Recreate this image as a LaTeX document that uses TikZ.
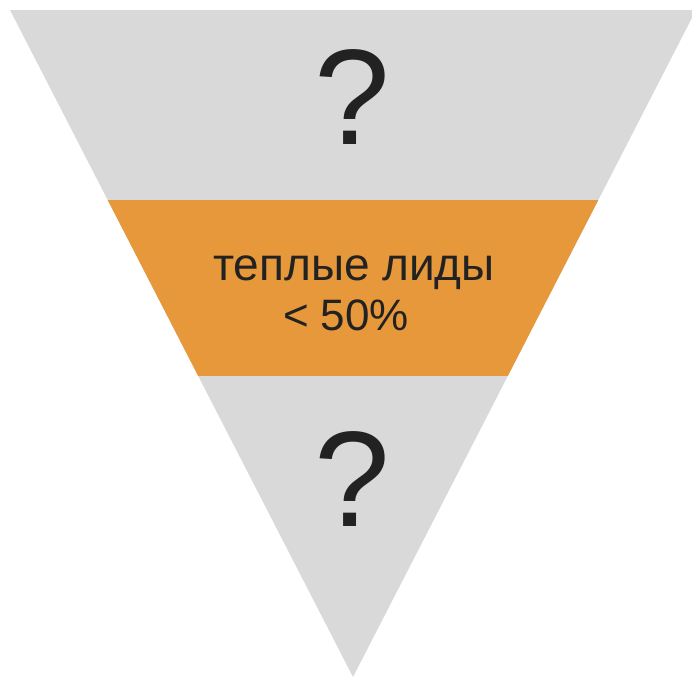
\documentclass[tikz,border=0pt]{standalone}
\usepackage{fontspec}
\setmainfont{Liberation Sans}
\usetikzlibrary{calc}
\definecolor{funnelgray}{HTML}{D9D9D9}
\definecolor{funnelorange}{HTML}{E6983B}
\definecolor{txt}{HTML}{222222}
\tikzset{
  qmark/.style={anchor=base, text=txt, inner sep=0pt, font=\fontsize{136}{136}\selectfont},
  bandtext/.style={anchor=base, text=txt, inner sep=0pt, align=center, font=\fontsize{46}{50}\selectfont}
}
\begin{document}
\begin{tikzpicture}[x=1pt,y=-1pt]
\useasboundingbox (0,0) rectangle (692,678);
\clip (0,0) rectangle (692,678);
\coordinate (A) at (10,10);
\coordinate (B) at (696,10);
\coordinate (C) at (353,677);
\fill[funnelgray] (A) -- (B) -- (C) -- cycle;
\coordinate (L1) at ($(A)!0.2849!(C)$);
\coordinate (R1) at ($(B)!0.2849!(C)$);
\coordinate (L2) at ($(A)!0.5487!(C)$);
\coordinate (R2) at ($(B)!0.5487!(C)$);
\fill[funnelorange] (L1) -- (R1) -- (R2) -- (L2) -- cycle;
\node[qmark] (q1) at (352,144) {?};
\node[qmark] (q2) at (352,526) {?};
\node[bandtext] (t) at (354,280) {теплые лиды};
\node[bandtext, font=\fontsize{44}{50}\selectfont] (p) at (346,330) {< 50\%};
\end{tikzpicture}
\end{document}
